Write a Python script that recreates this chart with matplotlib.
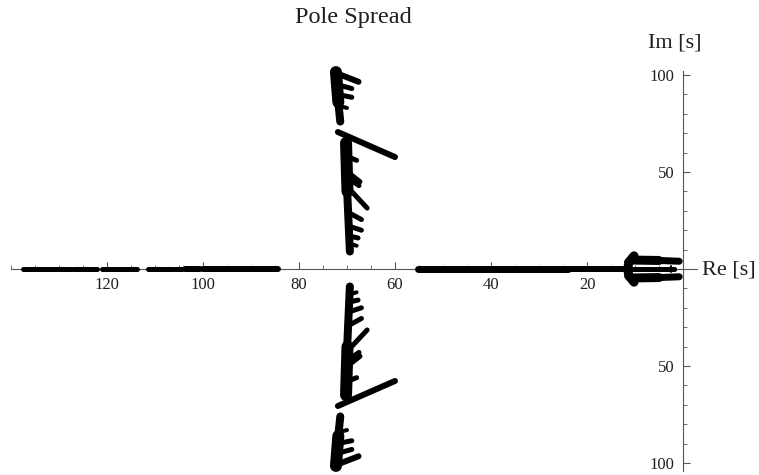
import matplotlib
matplotlib.use("Agg")
import matplotlib.pyplot as plt
from matplotlib.ticker import MultipleLocator, FixedLocator, FuncFormatter

# Real-axis pole runs, |Re| start / end
axis_run_start = [137.4, 135.6, 134.0, 132.0, 130.3, 128.5, 127.0, 125.4, 123.7,
                  121.1, 119.2, 117.1, 115.4, 111.4, 109.5, 107.4, 105.8, 103.8, 99.9,
                  55.2, 24.0]
axis_run_end = [135.8, 134.1, 132.2, 130.5, 128.8, 127.4, 125.6, 124.0, 122.1,
                119.4, 117.3, 115.6, 113.8, 109.6, 107.8, 106.2, 104.4, 100.6, 84.3,
                24.0, 11.5]
axis_run_width = [5, 5, 5, 5, 5, 5, 5, 5, 5,
                  5, 5, 5, 5, 5, 5, 5, 5, 6, 6,
                  7, 6]

# Complex pole traces in the upper half plane (mirrored below): |Re|, Im pairs
trace_re0 = [72.3, 71.9, 72.8, 72.0, 72.0, 71.6, 71.9,
             70.2, 70.0,
             70.0, 69.9, 69.9, 69.8, 69.6, 69.5, 69.5, 69.4,
             10.2, 11.3, 10.3, 5.0, 11.5, 2.6]
trace_im0 = [101.5, 88.0, 101.5, 95.0, 90.0, 84.0, 70.6,
             65.0, 42.0,
             58.0, 50.0, 47.0, 42.0, 29.0, 22.0, 17.0, 13.0,
             6.8, 3.5, 4.6, 4.4, 0.0, 1.6]
trace_re1 = [71.8, 71.4, 67.6, 69.0, 69.0, 70.0, 60.0,
             69.9, 69.4,
             68.0, 67.3, 67.5, 65.8, 67.0, 67.0, 67.7, 68.0,
             11.3, 11.5, 5.0, 0.8, 1.8, 2.6]
trace_im1 = [86.0, 76.0, 96.5, 93.0, 88.5, 83.0, 57.7,
             40.0, 9.0,
             56.0, 45.0, 43.0, 31.4, 25.5, 20.0, 16.0, 12.0,
             3.5, 0.0, 4.4, 4.0, 0.0, 0.0]
trace_width = [12, 8, 6, 5, 5, 4, 6,
               12, 8,
               5, 5, 5, 5, 5, 5, 5, 4,
               9, 9, 9, 7, 5, 2]

x_major = [20, 40, 60, 80, 100, 120]
y_major = [-100, -50, 50, 100]

DPI = 100
W, H = 759, 475
px = 72.0 / DPI  # points per pixel

fig = plt.figure(figsize=(W / DPI, H / DPI), dpi=DPI)
fig.patch.set_facecolor("white")

# axes box mapped so that |Re| runs right-to-left toward the imaginary axis
x_left, x_right = 140.0, -3.0
y_bot, y_top = -104.0, 102.0
ax_l_px, ax_r_px = 11.0, 697.4
ax_t_px, ax_b_px = 71.1, 470.8
ax = fig.add_axes([ax_l_px / W, 1 - ax_b_px / H,
                   (ax_r_px - ax_l_px) / W, (ax_b_px - ax_t_px) / H])
ax.set_xlim(x_left, x_right)
ax.set_ylim(y_bot, y_top)
ax.patch.set_alpha(0)

serif = ["Liberation Serif", "DejaVu Serif"]
axis_col = "#555555"
text_col = "#1e1e1e"

for s in ("top", "right"):
    ax.spines[s].set_visible(False)
ax.spines["left"].set_position(("data", 0))
ax.spines["bottom"].set_position(("data", 0))
for s in ("left", "bottom"):
    ax.spines[s].set_color(axis_col)
    ax.spines[s].set_linewidth(0.8)

ax.xaxis.set_major_locator(FixedLocator(x_major))
ax.xaxis.set_minor_locator(MultipleLocator(5))
ax.yaxis.set_major_locator(FixedLocator(y_major))
ax.yaxis.set_minor_locator(MultipleLocator(10))
ax.yaxis.set_major_formatter(FuncFormatter(lambda v, p: f"{abs(v):g}"))
ax.tick_params(which="major", direction="in", length=5, width=0.8,
               color=axis_col, labelsize=12, labelcolor=text_col, pad=6)
ax.tick_params(which="minor", direction="in", length=3, width=0.6, color=axis_col)
for lab in ax.get_xticklabels() + ax.get_yticklabels():
    lab.set_family(serif)

# real-axis runs
for a, b, w in zip(axis_run_start, axis_run_end, axis_run_width):
    ax.plot([a, b], [0, 0], color="black", lw=w * px, solid_capstyle="round",
            zorder=3, clip_on=False)

# complex-conjugate traces
for r0, i0, r1, i1, w in zip(trace_re0, trace_im0, trace_re1, trace_im1, trace_width):
    for sgn in (1, -1):
        ax.plot([r0, r1], [sgn * i0, sgn * i1], color="black", lw=w * px,
                solid_capstyle="round", zorder=3, clip_on=False)

fig.text(353 / W, 1 - 18 / H, "Pole Spread", family=serif, fontsize=17.5,
         color=text_col, ha="center", va="center")
fig.text(675 / W, 1 - 43 / H, "Im [s]", family=serif, fontsize=16,
         color=text_col, ha="center", va="center")
fig.text(702 / W, 1 - 270 / H, "Re [s]", family=serif, fontsize=16,
         color=text_col, ha="left", va="center")

fig.savefig("out.png", dpi=DPI, facecolor="white")
